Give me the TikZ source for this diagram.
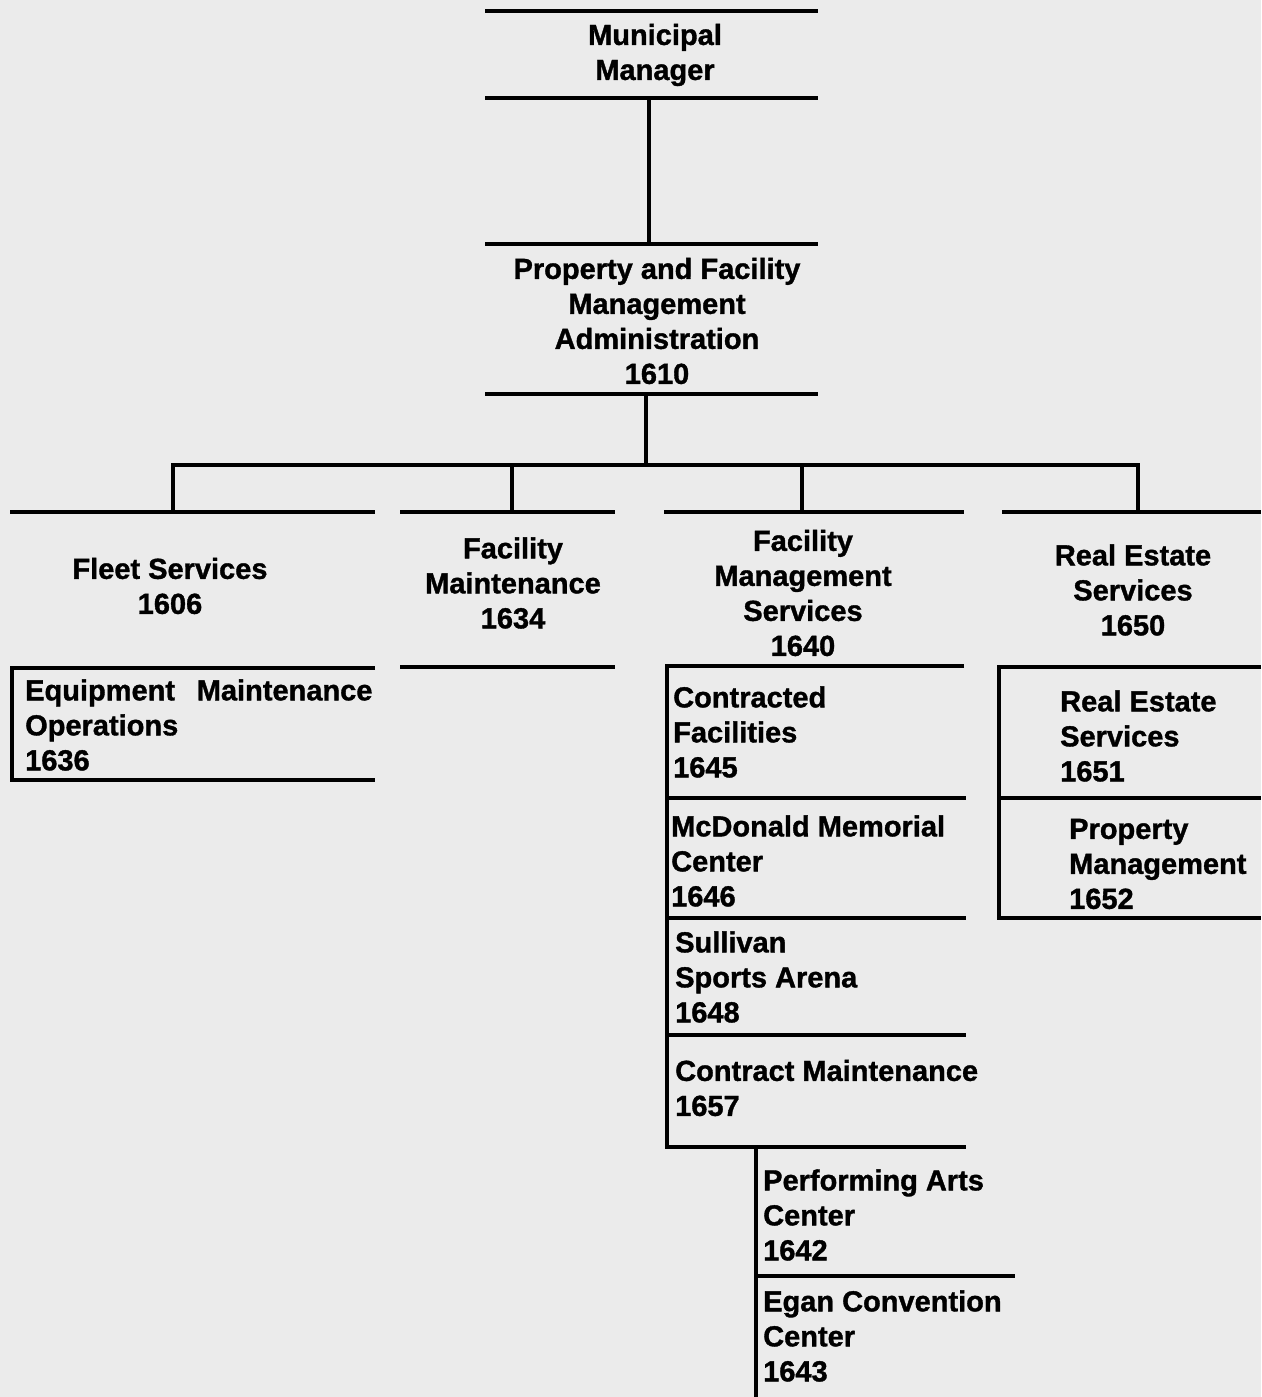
\documentclass[tikz,border=0pt]{standalone}
\usepackage{fontspec}
\setmainfont{Liberation Sans}[BoldFeatures={FakeBold=1.2}]
\usepackage{tikz}

\tikzset{
  unit/.style = {inner sep=0pt, align=center, font=\fontsize{29}{35}\selectfont\bfseries},
  subunit/.style = {unit, align=left, anchor=west},
  rule/.style = {line width=4pt},
}

\begin{document}
\begin{tikzpicture}[x=1pt, y=-1pt]
  \path[use as bounding box, fill=black!8] (0,0) rectangle (1261,1397);

  % unit texts
  \node[unit] (MM)  at (655, 55)  {Municipal\\Manager};
  \node[unit] (PFM) at (657, 321) {Property and Facility\\Management\\Administration\\1610};
  \node[unit] (FS)  at (170, 586) {Fleet Services\\1606};
  \node[unit] (FM)  at (513, 583) {Facility\\Maintenance\\1634};
  \node[unit] (FMS) at (803, 593) {Facility\\Management\\Services\\1640};
  \node[unit] (RES) at (1133, 590) {Real Estate\\Services\\1650};

  \node[subunit] (EMO) at (25, 725)   {Equipment\hspace{0.75em}Maintenance\\Operations\\1636};
  \node[subunit] (CF)  at (673, 732)  {Contracted\\Facilities\\1645};
  \node[subunit] (MMC) at (671, 861)  {McDonald Memorial\\Center\\1646};
  \node[subunit] (SSA) at (675, 977)  {Sullivan\\Sports Arena\\1648};
  \node[subunit] (CM)  at (675, 1088) {Contract Maintenance\\1657};
  \node[subunit] (PAC) at (763, 1215) {Performing Arts\\Center\\1642};
  \node[subunit] (ECC) at (763, 1336) {Egan Convention\\Center\\1643};
  \node[subunit] (RE1) at (1060, 736) {Real Estate\\Services\\1651};
  \node[subunit] (PM)  at (1069, 864) {Property\\Management\\1652};

  % rules above and below the units
  \draw[rule] (485, 11) -- (818, 11);
  \draw[rule] (485, 98) -- (818, 98);
  \draw[rule] (485, 244) -- (818, 244);
  \draw[rule] (485, 394) -- (818, 394);
  \draw[rule] (10, 512) -- (375, 512);
  \draw[rule] (400, 512) -- (615, 512);
  \draw[rule] (664, 512) -- (964, 512);
  \draw[rule] (1002, 512) -- (1261, 512);
  \draw[rule] (400, 667) -- (615, 667);

  \draw[rule] (375, 668) -- (12, 668) -- (12, 780) -- (375, 780);

  \draw[rule] (964, 666) -- (667, 666) -- (667, 1147) -- (966, 1147);
  \draw[rule] (667, 798) -- (966, 798);
  \draw[rule] (667, 918) -- (966, 918);
  \draw[rule] (667, 1035) -- (966, 1035);
  \draw[rule] (756, 1276) -- (1015, 1276);

  \draw[rule] (1261, 667) -- (999, 667) -- (999, 918) -- (1261, 918);
  \draw[rule] (999, 798) -- (1261, 798);

  % connectors
  \coordinate (mmB)  at (649, 98);
  \coordinate (pfmT) at (649, 244);
  \coordinate (pfmB) at (646, 394);
  \coordinate (bus)  at (646, 465);
  \coordinate (fsT)  at (173, 512);
  \coordinate (fmT)  at (512, 512);
  \coordinate (fmsT) at (802, 512);
  \coordinate (resT) at (1138, 512);
  \coordinate (cmB)  at (756, 1147);
  \coordinate (end)  at (756, 1397);

  \draw[rule] (mmB) -- (pfmT);
  \draw[rule] (pfmB) -- (bus);
  \draw[rule] (fsT) |- (bus) -| (resT);
  \draw[rule] (fmT) -- (fmT |- bus);
  \draw[rule] (fmsT) -- (fmsT |- bus);
  \draw[rule] (cmB) -- (end);
\end{tikzpicture}
\end{document}
